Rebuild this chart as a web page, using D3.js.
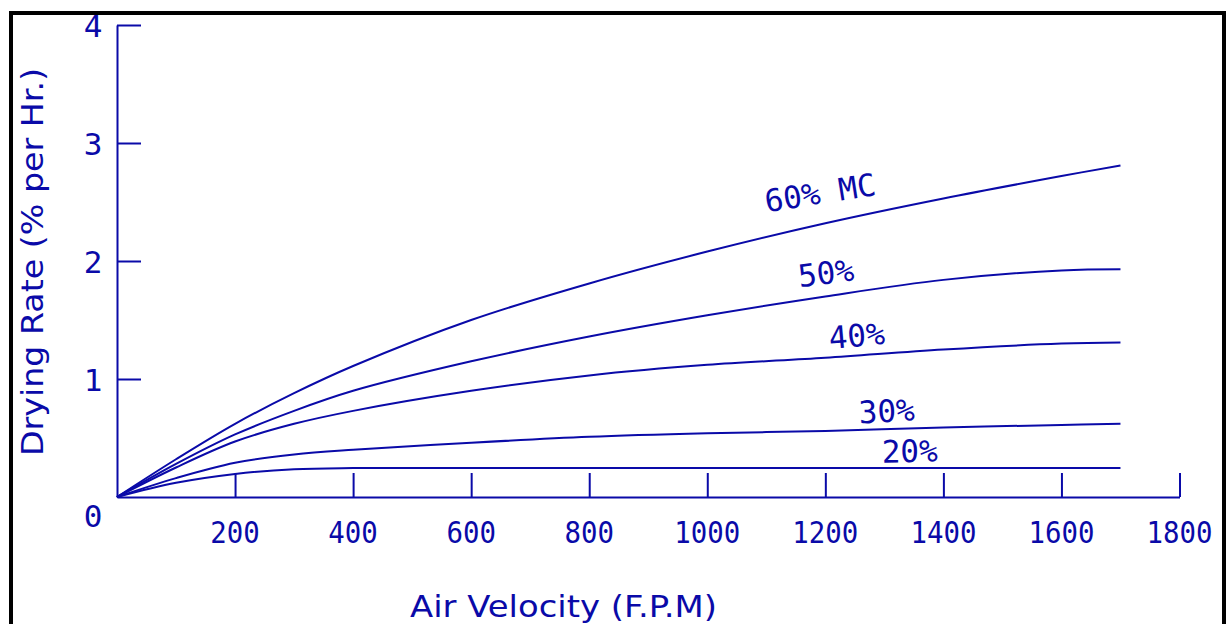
<!DOCTYPE html>
<html>
<head>
<meta charset="utf-8">
<script src="https://cdn.jsdelivr.net/npm/d3@7"></script>
<style>
  html, body { margin: 0; padding: 0; background: #fff; }
  svg { display: block; }
</style>
</head>
<body>
<svg id="chart" width="1227" height="624"></svg>
<script>
// ---- data ----
const velocity = [0, 100, 200, 300, 400, 600, 800, 1000, 1200, 1400, 1600, 1700];
const mc60 = [0, 0.32, 0.62, 0.88, 1.11, 1.50, 1.81, 2.08, 2.32, 2.53, 2.72, 2.81];
const mc50 = [0, 0.28, 0.53, 0.73, 0.90, 1.15, 1.36, 1.54, 1.70, 1.84, 1.92, 1.93];
const mc40 = [0, 0.25, 0.47, 0.62, 0.73, 0.90, 1.03, 1.12, 1.18, 1.25, 1.30, 1.31];
const mc30 = [0, 0.16, 0.29, 0.36, 0.40, 0.46, 0.51, 0.54, 0.56, 0.59, 0.61, 0.62];
const mc20 = [0, 0.12, 0.195, 0.235, 0.245, 0.245, 0.245, 0.245, 0.245, 0.245, 0.245, 0.245];
const seriesNames = ["60% MC", "50%", "40%", "30%", "20%"];
const xTicks = [200, 400, 600, 800, 1000, 1200, 1400, 1600, 1800];
const yTicks = [0, 1, 2, 3, 4];
// label anchor points (in data units) and tilt
const labelVel = [1191, 1201, 1253, 1304, 1343];
const labelRate = [2.58, 1.90, 1.37, 0.73, 0.39];
const labelTilt = [-9, -7, -5, -3, -1];
const xTitle = "Air Velocity (F.P.M)";
const yTitle = "Drying Rate (% per Hr.)";

// ---- drawing ----
const BLUE = "#0a0aa8";
const MONO = "'DejaVu Sans Mono', 'Liberation Mono', monospace";
const SANS = "'DejaVu Sans', 'Liberation Sans', sans-serif";
const svg = d3.select("#chart");

// frame
svg.append("rect").attr("x", 11).attr("y", 13).attr("width", 1213).attr("height", 640)
  .attr("fill", "none").attr("stroke", "#000").attr("stroke-width", 4);

const x = d3.scaleLinear().domain([0, 1800]).range([117, 1179.5]);
const y = d3.scaleLinear().domain([0, 4]).range([497, 25]);

const g = svg.append("g");

// axes
const xAxis = d3.axisTop(x).tickValues(xTicks).tickSize(24).tickSizeOuter(0).tickFormat("");
const xg = g.append("g").attr("transform", `translate(0,${y(0)})`).call(xAxis);
const yAxis = d3.axisRight(y).tickValues(yTicks.filter(d => d > 0)).tickSize(24).tickSizeOuter(0).tickFormat("");
const yg = g.append("g").attr("transform", `translate(${x(0)},0)`).call(yAxis);
[xg, yg].forEach(a => {
  a.select(".domain").attr("stroke", BLUE).attr("stroke-width", 2);
  a.selectAll(".tick line").attr("stroke", BLUE).attr("stroke-width", 2);
});

// tick labels
g.selectAll(".xlab").data(xTicks).join("text")
  .attr("x", d => x(d)).attr("y", 543)
  .attr("text-anchor", "middle")
  .attr("font-family", MONO).attr("font-size", 31).attr("fill", BLUE)
  .attr("textLength", d => String(d).length * 16.5).attr("lengthAdjust", "spacingAndGlyphs")
  .text(d => d);
g.selectAll(".ylab").data(yTicks).join("text")
  .attr("x", 93).attr("y", d => d === 0 ? 527 : y(d) + 12)
  .attr("text-anchor", "middle")
  .attr("font-family", MONO).attr("font-size", 31).attr("fill", BLUE)
  .text(d => d);

// titles
g.append("text").attr("x", 410).attr("y", 617)
  .attr("font-family", SANS).attr("font-size", 31).attr("fill", BLUE)
  .attr("textLength", 307).attr("lengthAdjust", "spacingAndGlyphs")
  .text(xTitle);
g.append("text").attr("transform", "translate(43,456) rotate(-90)")
  .attr("font-family", SANS).attr("font-size", 31).attr("fill", BLUE)
  .attr("textLength", 388).attr("lengthAdjust", "spacingAndGlyphs")
  .text(yTitle);

// curves
const allSeries = [mc60, mc50, mc40, mc30, mc20];
const line = d3.line().x(d => x(d[0])).y(d => y(d[1])).curve(d3.curveCatmullRom.alpha(0.5));
g.selectAll(".curve").data(allSeries).join("path")
  .attr("d", s => line(velocity.map((v, i) => [v, s[i]])))
  .attr("fill", "none").attr("stroke", BLUE).attr("stroke-width", 2);

// curve labels
g.selectAll(".clab").data(seriesNames).join("text")
  .attr("transform", (d, i) => `translate(${x(labelVel[i])},${y(labelRate[i])}) rotate(${labelTilt[i]})`)
  .attr("text-anchor", "middle").attr("dy", "0.36em")
  .attr("font-family", MONO).attr("font-size", 31).attr("fill", BLUE)
  .text(d => d);
</script>
</body>
</html>
